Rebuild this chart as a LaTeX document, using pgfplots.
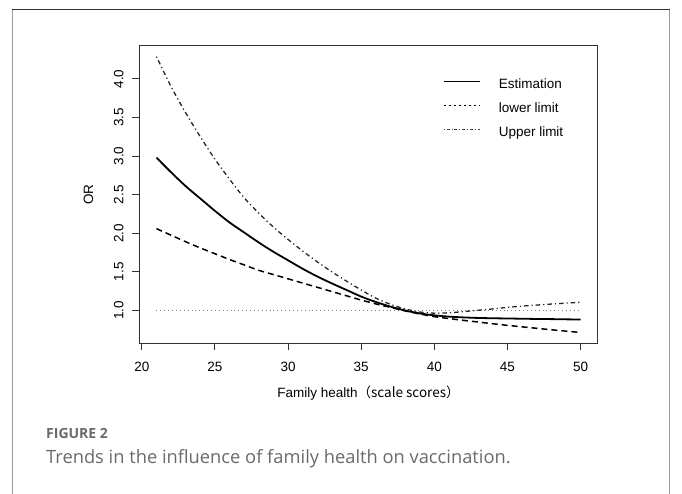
\documentclass[border=0pt]{standalone}
\usepackage{pgfplots}
\pgfplotsset{compat=1.18}
\usepackage{fontspec}
\setmainfont{Liberation Sans}
\newfontfamily\capfont{Open Sans}
\newfontfamily\cjk{Noto Sans CJK SC}
\definecolor{framegray}{HTML}{9A9A9A}
\definecolor{capgray}{HTML}{6A6A6A}
\definecolor{axgray}{HTML}{333333}

\begin{document}
\begin{tikzpicture}
% origin = lower left corner of the axis box (pixel 139.5,343.5 of the reference)
\useasboundingbox (-139.5pt,-150.5pt) rectangle (542.5pt,343.5pt);
\draw[framegray, line width=1.6pt] (-126.8pt,-155pt) -- (-126.8pt,334pt);
\draw[framegray, line width=1.6pt] (530pt,-155pt) -- (530pt,334pt);
\draw[black!80, line width=1pt] (-127.6pt,334pt) -- (530.8pt,334pt);

\begin{axis}[
  scale only axis, width=458pt, height=298pt,
  xmin=19.84, xmax=51.16, ymin=0.572, ymax=4.433,
  axis line style={draw=axgray, line width=1pt},
  tick style={draw=axgray, line width=1pt},
  tick align=outside, major tick length=7pt,
  tick pos=left,
  xtick={20,25,30,35,40,45,50},
  ytick={1,1.5,2,2.5,3,3.5,4},
  font=\fontsize{13.5}{16}\selectfont,
  /pgf/number format/assume math mode=true,
  xticklabel style={anchor=base, font=\fontsize{13.5}{16}\selectfont, yshift=-21pt},
  yticklabel style={xshift=-9pt, rotate=90, anchor=base, font=\fontsize{13.5}{16}\selectfont,
     /pgf/number format/.cd, fixed, fixed zerofill, precision=1},
  xlabel={Family health\cjk{（}scale scores\cjk{）}},
  ylabel={OR},
  every axis x label/.style={at={(axis description cs:0.5,-0.1654)}, anchor=center},
  every axis y label/.style={at={(axis description cs:-0.1114,0.5)}, anchor=center, rotate=90},
  legend style={draw=none, fill=none, at={(axis description cs:0.663,0.889)}, anchor=north west,
     font=\fontsize{13.5}{16}\selectfont, inner sep=0pt, row sep=11.2pt,
     nodes={inner sep=0pt, text height=10pt, text depth=2.5pt},
     /tikz/every odd column/.append style={column sep=18pt}},
  legend cell align=left,
  legend image code/.code={\draw[#1] (0pt,3.5pt) -- (36.6pt,3.5pt);},
]
\addlegendimage{black, line width=0.8pt}
\addlegendentry{Estimation}
\addlegendimage{black, line width=0.7pt, dash pattern=on 2.5pt off 2.5pt}
\addlegendentry{lower limit}
\addlegendimage{black!75, line width=0.6pt, dash pattern=on 0.8pt off 2pt on 3pt off 2pt}
\addlegendentry{Upper limit}

% reference line OR = 1
\addplot[gray, line width=0.8pt, dash pattern=on 0.9pt off 3pt, forget plot] coordinates {(21,1) (50,1)};

% Estimation
\addplot[black, line width=1.8pt, smooth, forget plot] coordinates {
(21,2.98) (22,2.79) (23,2.61) (24,2.45) (25,2.29) (26,2.14) (27,2.01) (28,1.88) (29,1.76) (30,1.65)
(31,1.54) (32,1.44) (33,1.35) (34,1.265) (35,1.18) (36,1.11) (37,1.05) (38,1.00) (39,0.962) (40,0.937)
(41,0.92) (42,0.91) (43,0.903) (44,0.899) (45,0.896) (46,0.893) (47,0.89) (48,0.888) (49,0.885) (50,0.883)
};

% lower limit
\addplot[black, line width=1.5pt, dash pattern=on 6pt off 4pt, smooth, forget plot] coordinates {
(21,2.06) (22,1.975) (23,1.89) (24,1.81) (25,1.735) (26,1.66) (27,1.59) (28,1.52) (29,1.465) (30,1.41)
(31,1.355) (32,1.30) (33,1.245) (34,1.19) (35,1.135) (36,1.085) (37,1.04) (38,0.995) (39,0.955) (40,0.92)
(41,0.895) (42,0.872) (43,0.85) (44,0.828) (45,0.807) (46,0.788) (47,0.769) (48,0.75) (49,0.732) (50,0.715)
};

% upper limit
\addplot[black!85, line width=1.3pt, dash pattern=on 1.2pt off 3pt on 4.5pt off 3pt, smooth, forget plot] coordinates {
(21,4.29) (22,3.90) (23,3.56) (24,3.25) (25,2.96) (26,2.70) (27,2.46) (28,2.26) (29,2.08) (30,1.92)
(31,1.77) (32,1.63) (33,1.50) (34,1.38) (35,1.265) (36,1.16) (37,1.08) (38,1.02) (39,0.98) (40,0.965)
(41,0.97) (42,0.985) (43,1.003) (44,1.02) (45,1.04) (46,1.057) (47,1.07) (48,1.083) (49,1.095) (50,1.106)
};
\end{axis}

\node[anchor=base west, inner sep=0pt, text=capgray, font=\capfont\bfseries\fontsize{14}{17}\selectfont] at (-93.5pt,-95.5pt) {FIGURE 2};
\node[anchor=base west, inner sep=0pt, text=capgray, font=\capfont\fontsize{18.3}{22}\selectfont] at (-93.5pt,-119.8pt) {Trends in the influence of family health on vaccination.};
\end{tikzpicture}
\end{document}
